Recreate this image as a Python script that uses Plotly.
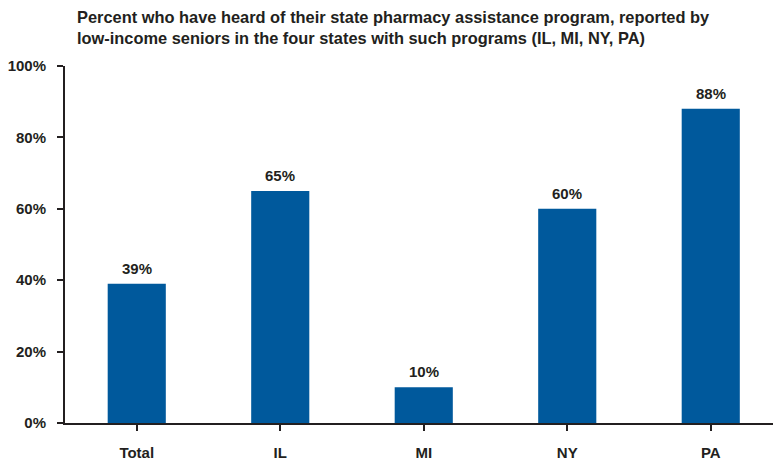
import plotly.graph_objects as go

categories = ["Total", "IL", "MI", "NY", "PA"]
values = [39, 65, 10, 60, 88]
value_labels = ["39%", "65%", "10%", "60%", "88%"]
y_ticks = [0, 20, 40, 60, 80, 100]
y_tick_labels = ["0%", "20%", "40%", "60%", "80%", "100%"]
title_text = ("Percent who have heard of their state pharmacy assistance program, reported by<br>"
              "low-income seniors in the four states with such programs (IL, MI, NY, PA)")

W, H = 773, 463
ml, mr, mt, mb = 65, 0, 66, 40
dark = "#231f20"
font = "Liberation Sans, Arial, sans-serif"

xs = list(range(len(categories)))
fig = go.Figure(go.Bar(
    x=xs, y=values,
    marker=dict(color="#00599c", line=dict(width=0)),
    width=0.405, hoverinfo="skip",
))
for x, v, t in zip(xs, values, value_labels):
    fig.add_annotation(x=x, y=v, xref="x", yref="y", text="<b>" + t + "</b>",
                       showarrow=False, yanchor="bottom", yshift=5,
                       font=dict(family=font, size=15, color=dark))

fig.update_layout(
    width=W, height=H,
    margin=dict(l=ml, r=mr, t=mt, b=mb, autoexpand=False),
    paper_bgcolor="white", plot_bgcolor="white",
    font=dict(family=font, size=15, color=dark),
    showlegend=False,
    title=dict(text="<b>" + title_text + "</b>", x=77 / W, xanchor="left",
               xref="container", y=1 - 23 / H, yanchor="top", yref="container",
               font=dict(family=font, size=16.4, color=dark)),
)
fig.update_xaxes(
    tickmode="array", tickvals=xs,
    ticktext=["<b>" + c + "</b>" for c in categories],
    range=[-0.5, -0.5 + (W - ml - mr) / 143.5],
    showline=True, linecolor=dark, linewidth=2,
    ticks="outside", tickson="boundaries", ticklen=6, tickwidth=2, tickcolor=dark,
    ticklabelstandoff=9, tickfont=dict(size=15, color=dark),
    showgrid=False, zeroline=False, automargin=False,
)
fig.update_yaxes(
    range=[0, 100], tickmode="array", tickvals=y_ticks,
    ticktext=["<b>" + t + "</b>" for t in y_tick_labels],
    showline=True, linecolor=dark, linewidth=2,
    ticks="outside", ticklen=6, tickwidth=2, tickcolor=dark,
    ticklabelstandoff=8, tickfont=dict(size=15, color=dark),
    showgrid=False, zeroline=False, automargin=False,
)
fig.write_html("out.html", config={"displayModeBar": False},
               post_script="document.body.style.margin='0';document.body.style.padding='0';")
